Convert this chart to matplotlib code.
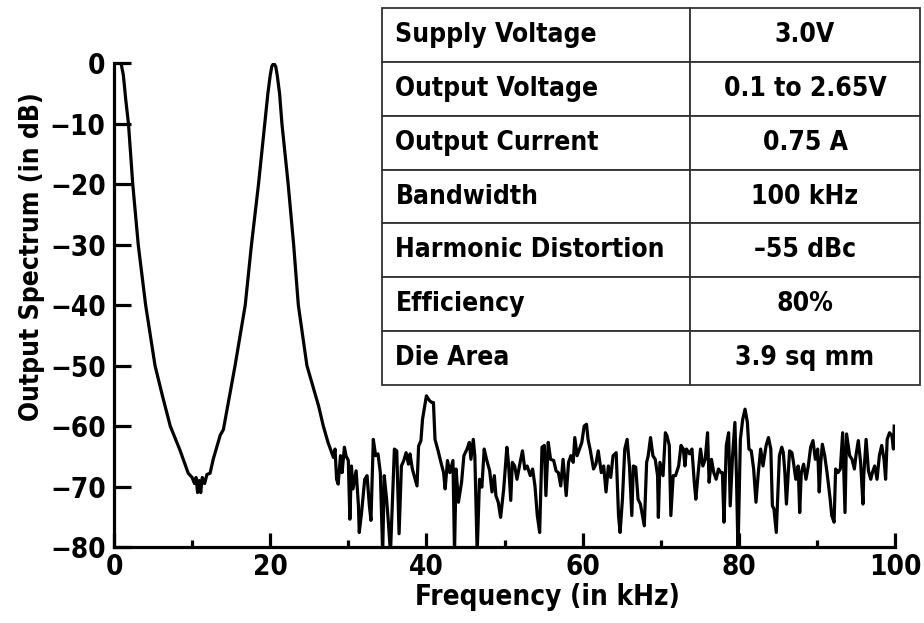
import matplotlib
matplotlib.use("Agg")
import matplotlib.pyplot as plt
from matplotlib.table import Table
from matplotlib.ticker import MultipleLocator

plt.rcParams['font.family'] = ['DejaVu Sans']
plt.rcParams['font.stretch'] = 'condensed'
plt.rcParams['font.weight'] = 'bold'

# spectrum trace (kHz, dB)
freq_khz = [
    0.9, 1.2, 1.5, 1.85, 2.4, 3.1, 4.05, 5.25, 6.2, 7.2, 8.45, 9.5, 10.0,
    10.3, 10.5, 10.7, 10.9, 11.1, 11.3, 11.6, 11.9, 12.3, 12.7, 13.6, 14.0,
    15.5, 16.8, 17.6, 18.5, 19.3, 19.7, 20.0, 20.2, 20.45, 20.7, 20.9, 21.2,
    21.5, 22.3, 23.0, 23.6,
    24.7, 26.2, 26.8, 27.4, 28.1, 28.3, 28.5, 28.7, 29.0, 29.2, 29.5, 29.7,
    30.0, 30.2, 30.4, 30.6, 31.0, 31.3, 31.4, 31.7, 32.1, 32.4, 32.7, 32.9,
    33.2, 33.5, 33.8, 34.1, 34.4, 34.6, 34.9, 35.1, 35.4, 35.9, 36.2, 36.5,
    36.8, 37.1, 37.4, 37.7, 37.9, 38.2, 38.8, 39.0, 39.3, 39.5, 39.8, 40.0,
    40.4, 40.7, 40.9, 41.1, 41.5, 41.8, 42.2, 42.4, 42.7, 43.0, 43.4, 43.6,
    43.8, 44.1, 44.5, 44.8, 45.2, 45.5, 45.7, 46.0, 46.2, 46.5, 46.8, 47.1,
    47.4, 47.7, 48.1, 48.4, 48.7, 48.9, 49.2, 49.5, 49.9, 50.3, 50.5, 50.8,
    51.0, 51.3, 51.6, 52.0, 52.3, 52.6, 52.9, 53.3, 53.6, 53.9, 54.2, 54.5,
    54.8, 55.1, 55.3, 55.6, 55.9, 56.3, 56.6, 56.9, 57.2, 57.5, 57.9, 58.2,
    58.5, 58.8, 59.0, 59.3, 59.6, 59.9, 60.2, 60.5, 60.7, 61.0, 61.4, 61.7,
    62.0, 62.4, 62.7, 63.0, 63.3, 63.6, 63.9, 64.3, 64.6, 64.8, 65.1, 65.4,
    65.7, 66.0, 66.3, 66.5, 66.8, 67.1, 67.4, 67.9, 68.2, 68.4, 68.7, 69.0,
    69.3, 69.6, 69.7, 69.9, 70.3, 70.6, 70.8, 71.1, 71.3, 71.6, 71.9, 72.3,
    72.6, 72.9, 73.1, 73.3, 73.7, 74.0, 74.3, 74.5, 74.8, 75.1, 75.4, 75.7,
    76.0, 76.2, 76.5, 76.8, 77.1, 77.4, 77.7, 77.9, 78.1, 78.4, 78.7, 78.9,
    79.2, 79.5, 79.7, 79.9, 80.2, 80.5, 80.8, 81.1, 81.3, 81.6, 81.9, 82.2,
    82.5, 82.8, 83.1, 83.5, 83.8, 84.1, 84.3, 84.5, 84.8, 85.2, 85.5, 85.7,
    85.9, 86.1, 86.5, 86.8, 87.0, 87.3, 87.6, 87.8, 88.0, 88.3, 88.6, 88.9,
    89.2, 89.5, 89.8, 90.1, 90.3, 90.5, 90.7, 91.0, 91.3, 91.7, 91.9, 92.2,
    92.4, 92.7, 93.0, 93.3, 93.6, 93.8, 94.2, 94.5, 94.8, 95.0, 95.3, 95.6,
    95.9, 96.0, 96.3, 96.6, 96.9, 97.1, 97.4, 97.7, 98.0, 98.3, 98.6, 98.8,
    99.0, 99.3, 99.6, 99.8, 99.9,
]
spectrum_db = [
    0.0, -2.0, -6.0, -10.0, -20.0, -30.0, -40.0, -50.0, -55.0, -60.0, -64.0, -67.8, -68.5,
    -69.5, -68.5, -71.0, -69.0, -71.0, -68.5, -69.5, -68.0, -67.8, -65.5, -61.5, -60.6,
    -50.0, -40.0, -30.0, -20.0, -10.0, -5.0, -2.0, -0.5, 0.0, -0.5, -2.0, -5.0,
    -10.0, -20.0, -30.0, -40.0,
    -50.0, -56.7, -60.0, -62.7, -65.2, -63.8, -68.8, -69.6, -64.9, -67.7, -63.5, -64.9,
    -65.7, -75.4, -66.6, -70.4, -67.4, -73.2, -77.6, -74.3, -68.8, -68.2, -73.2, -75.6,
    -62.2, -64.9, -64.6, -67.7, -81.0, -68.2, -72.1, -75.4, -81.0, -63.8, -64.1, -77.8,
    -66.6, -65.7, -64.4, -66.3, -64.6, -67.1, -69.9, -63.3, -62.4, -58.9, -56.6, -55.0,
    -55.8, -56.1, -56.1, -62.2, -64.1, -65.7, -67.7, -70.4, -65.7, -67.7, -65.7, -81.0,
    -67.1, -72.6, -69.3, -64.9, -63.8, -62.7, -65.5, -62.2, -64.9, -81.0, -68.8, -70.1,
    -63.8, -65.5, -67.4, -70.9, -68.2, -71.5, -72.6, -75.1, -70.4, -63.5, -66.0, -72.3,
    -66.0, -66.6, -68.8, -66.0, -64.1, -67.1, -66.6, -68.2, -67.1, -69.9, -74.8, -77.6,
    -63.5, -63.2, -71.5, -62.7, -65.5, -65.7, -67.4, -67.7, -69.9, -65.5, -71.5, -66.0,
    -64.9, -66.0, -61.9, -64.9, -63.8, -62.7, -60.0, -59.7, -62.2, -64.1, -67.1, -66.3,
    -64.1, -67.7, -66.6, -70.9, -66.6, -68.5, -64.9, -64.4, -74.8, -77.6, -72.1, -63.8,
    -62.2, -66.6, -74.8, -66.6, -66.8, -72.1, -72.9, -76.5, -66.0, -64.9, -61.9, -64.9,
    -65.5, -68.2, -75.1, -66.0, -68.2, -61.1, -61.6, -63.2, -74.8, -68.2, -68.2, -66.6,
    -63.2, -63.8, -66.6, -63.8, -64.6, -63.8, -69.3, -72.1, -67.7, -63.8, -66.6, -65.5,
    -61.1, -69.3, -65.5, -67.7, -68.8, -67.1, -67.7, -67.7, -75.9, -63.2, -61.1, -73.2,
    -64.9, -59.4, -68.2, -81.0, -62.2, -58.9, -57.2, -59.4, -63.8, -64.1, -67.1, -72.6,
    -67.7, -63.8, -66.6, -63.2, -61.9, -63.8, -73.2, -73.7, -77.6, -64.9, -63.5, -64.4,
    -67.7, -72.9, -64.1, -64.4, -66.0, -68.8, -66.6, -74.3, -67.7, -66.3, -68.8, -66.6,
    -63.5, -62.4, -65.5, -63.8, -70.9, -66.0, -63.0, -64.9, -67.7, -72.1, -74.8, -75.9,
    -67.1, -67.7, -67.1, -61.1, -74.3, -61.3, -64.9, -65.5, -67.1, -64.9, -62.4, -66.0,
    -72.9, -68.2, -62.2, -67.4, -68.8, -67.7, -66.6, -68.8, -64.9, -63.2, -65.5, -68.8,
    -62.2, -61.1, -61.6, -63.8, -60.0,
]

x_ticks = [0, 20, 40, 60, 80, 100]
y_ticks = [0, -10, -20, -30, -40, -50, -60, -70, -80]
y_tick_labels = ['0', '\u221210', '\u221220', '\u221230', '\u221240',
                 '\u221250', '\u221260', '\u221270', '\u221280']

spec_names = ['Supply Voltage', 'Output Voltage', 'Output Current', 'Bandwidth',
              'Harmonic Distortion', 'Efficiency', 'Die Area']
spec_values = ['3.0V', '0.1 to 2.65V', '0.75 A', '100 kHz', '\u201355 dBc', '80%',
               '3.9 sq mm']

fig = plt.figure(figsize=(9.24, 6.23), dpi=100)
ax = fig.add_axes([0.1234, 0.122, 0.8452, 0.7764])

ax.plot(freq_khz, spectrum_db, color='black', lw=2.3)
ax.set_xlim(0, 100)
ax.set_ylim(-80, 0)

ax.spines['top'].set_visible(False)
ax.spines['right'].set_visible(False)
ax.spines['left'].set_linewidth(2.3)
ax.spines['bottom'].set_linewidth(2.3)

ax.set_xticks(x_ticks)
ax.xaxis.set_minor_locator(MultipleLocator(10))
ax.set_yticks(y_ticks)
ax.set_yticklabels(y_tick_labels)
ax.tick_params(axis='x', which='major', direction='in', length=10, width=2.3,
               labelsize=20, pad=4)
ax.tick_params(axis='x', which='minor', direction='in', length=5, width=2.3)
ax.tick_params(axis='y', which='major', direction='in', length=12, width=2.3,
               labelsize=20, pad=6)

ax.set_xlabel('Frequency (in kHz)', fontsize=20, fontweight='bold')
ax.set_ylabel('Output Spectrum (in dB)', fontsize=19, fontweight='bold')
ax.xaxis.set_label_coords(0.555, -0.075)
ax.yaxis.set_label_coords(-0.088, 0.6)

# spec table in its own axes so it can overhang the plot
tax = fig.add_axes([0.413, 0.382, 0.583, 0.605])
tax.axis('off')
tbl = Table(tax, bbox=[0, 0, 1, 1])
n = len(spec_names)
for i in range(n):
    c0 = tbl.add_cell(i, 0, 0.572, 1.0 / n, text=spec_names[i], loc='left',
                      facecolor='white', edgecolor='#333333')
    c0.PAD = 0.045
    c1 = tbl.add_cell(i, 1, 0.428, 1.0 / n, text=spec_values[i], loc='center',
                      facecolor='white', edgecolor='#333333')
    for c in (c0, c1):
        c.set_linewidth(1.3)
        c.get_text().set_fontsize(19)
        c.get_text().set_fontweight('bold')
tbl.auto_set_font_size(False)
tax.add_table(tbl)

fig.savefig('out.png', dpi=100)
